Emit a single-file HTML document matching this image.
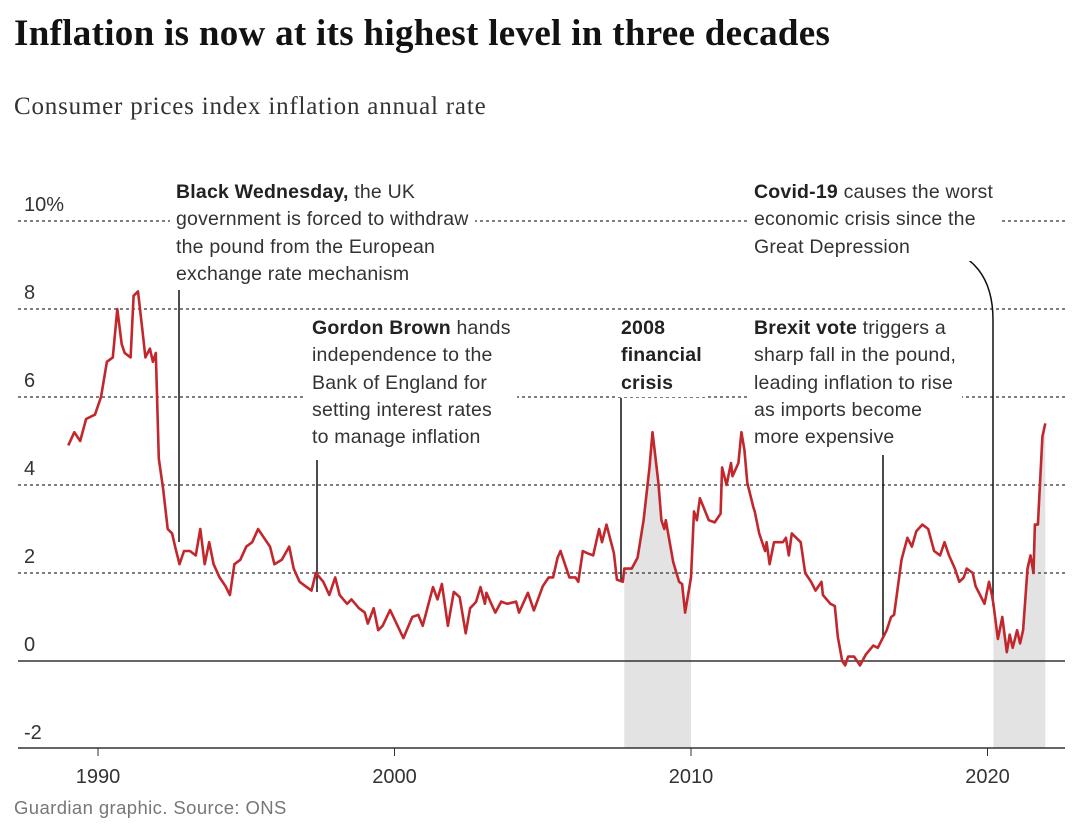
<!DOCTYPE html>
<html><head><meta charset="utf-8"><style>
body{margin:0;background:#fff;width:1080px;height:833px;overflow:hidden;font-family:"Liberation Sans",sans-serif;}
.t{position:absolute;white-space:nowrap}
.ann{position:absolute;font-size:19.5px;line-height:27.3px;color:#333;background:#fff;white-space:nowrap;letter-spacing:0.2px}
.ann b{color:#222}
</style></head><body>
<div class="t" style="left:14px;top:12px;font-family:'Liberation Serif',serif;font-weight:bold;font-size:37px;color:#121212;letter-spacing:0.3px">Inflation is now at its highest level in three decades</div>
<div class="t" style="left:14px;top:93px;font-family:'Liberation Serif',serif;font-size:25px;color:#333;letter-spacing:0.8px">Consumer prices index inflation annual rate</div>
<svg id="c" width="1080" height="833" style="position:absolute;left:0;top:0"></svg>
<div class="ann" style="left:170px;top:179px;padding:0 6px"><b>Black Wednesday,</b> the UK<br>government is forced to withdraw<br>the pound from the European<br>exchange rate mechanism</div>
<div class="ann" style="left:306px;top:315px;padding:0 6px"><b>Gordon Brown</b> hands<br>independence to the<br>Bank of England for<br>setting interest rates<br>to manage inflation</div>
<div class="ann" style="left:615px;top:315px;padding:0 6px"><b>2008<br>financial<br>crisis</b></div>
<div class="ann" style="left:748px;top:315px;padding:0 6px"><b>Brexit vote</b> triggers a<br>sharp fall in the pound,<br>leading inflation to rise<br>as imports become<br>more expensive</div>
<div class="ann" style="left:748px;top:179px;padding:0 6px"><b>Covid-19</b> causes the worst<br>economic crisis since the<br>Great Depression</div>
<div class="t" style="left:14px;top:797px;font-size:18.5px;color:#777;letter-spacing:0.4px">Guardian graphic. Source: ONS</div>
<script>
const yearsX=[1989.0,1989.2,1989.4,1989.6,1989.9,1990.1,1990.3,1990.5,1990.65,1990.8,1990.9,1991.1,1991.2,1991.35,1991.5,1991.6,1991.75,1991.85,1991.95,1992.05,1992.2,1992.35,1992.5,1992.6,1992.75,1992.9,1993.1,1993.3,1993.45,1993.6,1993.75,1993.9,1994.1,1994.3,1994.45,1994.6,1994.8,1995.0,1995.2,1995.4,1995.6,1995.8,1995.95,1996.2,1996.45,1996.6,1996.8,1997.0,1997.2,1997.35,1997.6,1997.8,1998.0,1998.15,1998.4,1998.55,1998.8,1999.0,1999.1,1999.3,1999.45,1999.6,1999.85,2000.3,2000.6,2000.8,2000.95,2001.3,2001.45,2001.6,2001.8,2002.0,2002.2,2002.4,2002.55,2002.75,2002.9,2003.05,2003.1,2003.4,2003.6,2003.8,2004.1,2004.2,2004.5,2004.7,2005.0,2005.2,2005.35,2005.5,2005.6,2005.9,2006.1,2006.2,2006.35,2006.5,2006.7,2006.9,2007.0,2007.15,2007.4,2007.5,2007.7,2007.75,2008.0,2008.2,2008.4,2008.6,2008.7,2008.9,2009.0,2009.1,2009.15,2009.4,2009.6,2009.7,2009.8,2010.0,2010.1,2010.2,2010.3,2010.6,2010.8,2011.0,2011.05,2011.2,2011.35,2011.4,2011.6,2011.7,2011.8,2011.9,2012.1,2012.15,2012.3,2012.5,2012.55,2012.65,2012.8,2013.1,2013.2,2013.3,2013.4,2013.7,2013.85,2014.05,2014.2,2014.4,2014.45,2014.7,2014.85,2014.95,2015.1,2015.2,2015.3,2015.5,2015.7,2015.9,2016.15,2016.3,2016.6,2016.75,2016.85,2017.1,2017.3,2017.45,2017.6,2017.8,2018.0,2018.2,2018.4,2018.55,2018.7,2018.9,2019.05,2019.2,2019.3,2019.5,2019.6,2019.75,2019.9,2020.05,2020.15,2020.2,2020.35,2020.5,2020.65,2020.75,2020.85,2021.0,2021.1,2021.2,2021.35,2021.45,2021.55,2021.6,2021.7,2021.85,2021.95];
const cpiValues=[4.9,5.2,5.0,5.5,5.6,6.0,6.8,6.9,8.0,7.2,7.0,6.9,8.3,8.4,7.5,6.9,7.1,6.8,7.0,4.6,3.9,3.0,2.9,2.6,2.2,2.5,2.5,2.4,3.0,2.2,2.7,2.2,1.9,1.7,1.5,2.2,2.3,2.6,2.7,3.0,2.8,2.6,2.2,2.3,2.6,2.1,1.8,1.7,1.6,2.0,1.8,1.5,1.9,1.5,1.3,1.4,1.2,1.1,0.85,1.2,0.7,0.8,1.16,0.52,1.0,1.05,0.8,1.68,1.4,1.75,0.8,1.57,1.45,0.63,1.2,1.34,1.68,1.3,1.55,1.1,1.35,1.3,1.35,1.1,1.55,1.15,1.7,1.9,1.9,2.35,2.5,1.9,1.9,1.8,2.5,2.45,2.4,3.0,2.7,3.1,2.45,1.85,1.8,2.1,2.1,2.35,3.2,4.4,5.2,4.05,3.2,3.0,3.2,2.25,1.8,1.75,1.1,1.9,3.4,3.2,3.7,3.2,3.15,3.35,4.4,4.0,4.5,4.2,4.5,5.2,4.8,4.05,3.5,3.4,2.9,2.5,2.7,2.2,2.7,2.7,2.8,2.4,2.9,2.7,2.0,1.8,1.6,1.8,1.5,1.3,1.25,0.55,0.0,-0.1,0.1,0.1,-0.1,0.15,0.35,0.3,0.7,1.0,1.05,2.3,2.8,2.6,2.95,3.1,3.0,2.5,2.4,2.7,2.4,2.1,1.8,1.9,2.1,2.0,1.7,1.5,1.3,1.8,1.5,1.3,0.5,1.0,0.2,0.6,0.3,0.7,0.4,0.7,2.1,2.4,2.0,3.1,3.1,5.1,5.4];
const yTicks=[10,8,6,4,2,0,-2];
const yTickLabels=["10%","8","6","4","2","0","-2"];
const xTicks=[1990,2000,2010,2020];
const recessions=[[2007.75,2010.0],[2020.2,2021.95]];
const NS="http://www.w3.org/2000/svg";
const svg=document.getElementById('c');
const X=y=>98+(y-1990)*29.65;
const Y=v=>661-v*44;
function mk(tag,a,name){const e=document.createElementNS(NS,tag);for(const k in a)e.setAttribute(k,a[k]);


svg.appendChild(e);return e;}
recessions.forEach((r,i)=>{
 let pts=[];
 for(let j=0;j<yearsX.length;j++){if(yearsX[j]>=r[0]&&yearsX[j]<=r[1])pts.push(X(yearsX[j]).toFixed(1)+','+Y(cpiValues[j]).toFixed(1));}
 const d='M'+X(r[0])+',748 L'+pts.join(' L')+' L'+X(r[1])+',748 Z';
 mk('path',{d:d,fill:'#e3e3e3'},'recession-shading-'+(i+1));
});
yTicks.forEach((t,i)=>{
 if(t!==0&&t!==-2) mk('line',{x1:18,x2:1065,y1:Y(t),y2:Y(t),stroke:'#333','stroke-width':1.3,'stroke-dasharray':'3,3'},'gridline-'+t);
 const tx=mk('text',{x:24,y:Y(t)-10,'font-size':20,fill:'#333','font-family':'Liberation Sans, sans-serif'},'y-tick-label');
 tx.textContent=yTickLabels[i];
});
mk('line',{x1:18,x2:1065,y1:Y(0),y2:Y(0),stroke:'#333','stroke-width':1.5},'zero-line');
mk('line',{x1:18,x2:1065,y1:748,y2:748,stroke:'#333','stroke-width':1.5},'x-axis-line');
xTicks.forEach(t=>{
 mk('line',{x1:X(t),x2:X(t),y1:748,y2:756,stroke:'#333','stroke-width':1},'x-tick');
 const tx=mk('text',{x:X(t),y:783,'font-size':20,fill:'#333','text-anchor':'middle','font-family':'Liberation Sans, sans-serif'},'x-tick-label');
 tx.textContent=t;
});
mk('line',{x1:179,x2:179,y1:290,y2:542,stroke:'#111','stroke-width':1.5},'leader-black-wednesday');
mk('line',{x1:317,x2:317,y1:460,y2:592,stroke:'#111','stroke-width':1.5},'leader-gordon-brown');
mk('line',{x1:621,x2:621,y1:398,y2:582,stroke:'#111','stroke-width':1.5},'leader-2008');
mk('line',{x1:883,x2:883,y1:455,y2:636,stroke:'#111','stroke-width':1.5},'leader-brexit');
mk('path',{d:'M930,247 C975,250 993,280 993,320 L993,606',fill:'none',stroke:'#111','stroke-width':1.5},'leader-covid');
const d=yearsX.map((y,i)=>(i?'L':'M')+X(y).toFixed(1)+','+Y(cpiValues[i]).toFixed(1)).join(' ');
mk('path',{d:d,fill:'none',stroke:'#c1272d','stroke-width':2.6,'stroke-linejoin':'round'},'cpi-line');
</script>
</body></html>
